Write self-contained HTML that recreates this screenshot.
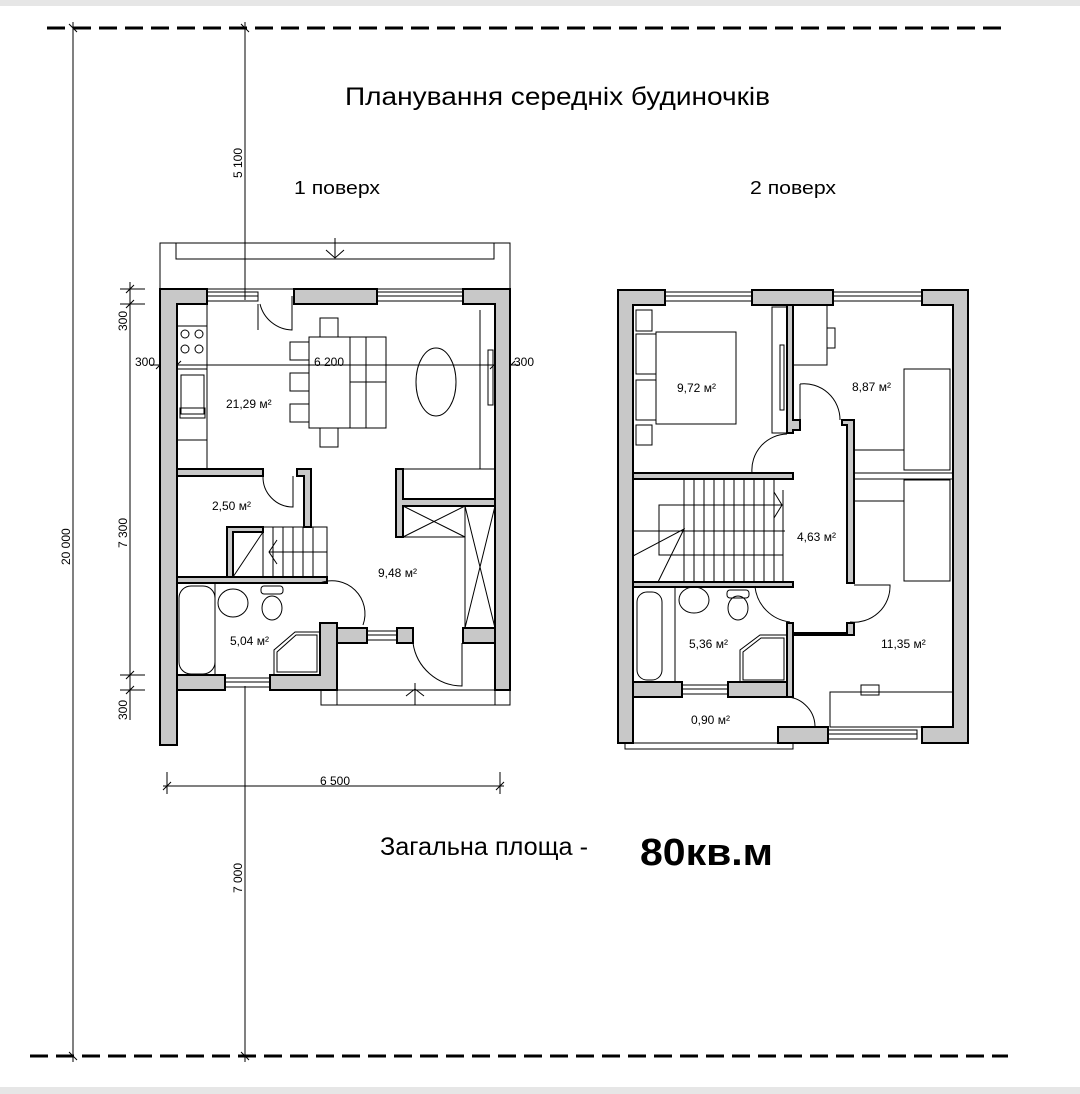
<!DOCTYPE html>
<html><head><meta charset="utf-8"><style>
html,body{margin:0;padding:0;background:#fff;}
svg{display:block;}
text{font-family:"Liberation Sans","DejaVu Sans",sans-serif;fill:#000;}
</style></head><body>
<svg width="1080" height="1094" viewBox="0 0 1080 1094" xmlns="http://www.w3.org/2000/svg">
<rect x="0" y="0" width="1080" height="6" fill="#e6e6e6"/>
<rect x="0" y="1087" width="1080" height="7" fill="#e6e6e6"/>
<line x1="47" y1="28" x2="1008" y2="28" stroke="#000" stroke-width="3" stroke-dasharray="18,8"/>
<line x1="30" y1="1056" x2="1008" y2="1056" stroke="#000" stroke-width="3" stroke-dasharray="18,8"/>
<g stroke="#000" stroke-width="1">
<line x1="73" y1="22" x2="73" y2="1062"/>
<line x1="245" y1="22" x2="245" y2="300"/>
<line x1="245" y1="686" x2="245" y2="1062"/>
<line x1="69" y1="24" x2="77" y2="32"/><line x1="241" y1="24" x2="249" y2="32"/>
<line x1="69" y1="1052" x2="77" y2="1060"/><line x1="241" y1="1052" x2="249" y2="1060"/>
<line x1="163" y1="786" x2="504" y2="786"/>
<line x1="167" y1="772" x2="167" y2="794"/><line x1="500" y1="772" x2="500" y2="794"/>
<line x1="163" y1="790" x2="171" y2="782"/><line x1="496" y1="790" x2="504" y2="782"/>
<line x1="130" y1="282" x2="130" y2="720"/>
<line x1="120" y1="289" x2="145" y2="289"/><line x1="120" y1="304" x2="145" y2="304"/>
<line x1="120" y1="675" x2="145" y2="675"/><line x1="120" y1="690" x2="145" y2="690"/>
<line x1="126" y1="293" x2="134" y2="285"/><line x1="126" y1="308" x2="134" y2="300"/>
<line x1="126" y1="679" x2="134" y2="671"/><line x1="126" y1="694" x2="134" y2="686"/>
<line x1="150" y1="365" x2="520" y2="365"/>
<line x1="156" y1="369" x2="164" y2="361"/><line x1="173" y1="369" x2="181" y2="361"/>
<line x1="490" y1="369" x2="498" y2="361"/><line x1="507" y1="369" x2="515" y2="361"/>
</g>
<g font-size="12">
<text transform="translate(242,178) rotate(-90)">5 100</text>
<text transform="translate(242,893) rotate(-90)">7 000</text>
<text transform="translate(70,565) rotate(-90)">20 000</text>
<text transform="translate(127,548) rotate(-90)">7 300</text>
<text transform="translate(127,331) rotate(-90)">300</text>
<text transform="translate(127,720) rotate(-90)">300</text>
<text x="135" y="366">300</text>
<text x="514" y="366">300</text>
<text x="314" y="366">6 200</text>
<text x="320" y="785">6 500</text>
</g>
<text x="345" y="105" font-size="25" textLength="425" lengthAdjust="spacingAndGlyphs">Планування середніх будиночків</text>
<text x="294" y="194" font-size="18" textLength="86" lengthAdjust="spacingAndGlyphs">1 поверх</text>
<text x="750" y="194" font-size="18" textLength="86" lengthAdjust="spacingAndGlyphs">2 поверх</text>
<text x="380" y="855" font-size="25" textLength="208" lengthAdjust="spacingAndGlyphs">Загальна площа  -</text>
<text x="640" y="865" font-size="38" font-weight="bold" textLength="133" lengthAdjust="spacingAndGlyphs">80кв.м</text>

<!-- FLOOR 1 -->
<g fill="none" stroke="#000" stroke-width="1">
<rect x="160" y="243" width="350" height="46"/>
<rect x="176" y="243" width="318" height="16"/>
<path d="M335 238 V258 M326 250 L335 258 L344 250"/>
<rect x="321" y="690" width="189" height="15"/>
<line x1="337" y1="690" x2="337" y2="705"/><line x1="495" y1="690" x2="495" y2="705"/>
<path d="M415 705 V683 M406 696 L415 689 L424 696"/>
</g>
<g fill="#c8c8c8" stroke="#000" stroke-width="2">
<path d="M160 289 H207 V304 H177 V745 H160 Z"/>
<rect x="294" y="289" width="83" height="15"/>
<path d="M463 289 H510 V690 H495 V304 H463 Z"/>
<path d="M177 675 H225 V690 H177 Z"/>
<path d="M270 675 H320 V623 H337 V690 H270 Z"/>
<rect x="337" y="628" width="30" height="15"/>
<rect x="397" y="628" width="16" height="15"/>
<rect x="463" y="628" width="32" height="15"/>
<rect x="177" y="469" width="86" height="7"/>
<path d="M297 469 H311 V527 H304 V476 H297 Z"/>
<path d="M227 527 H263 V532 H233 V578 H227 Z"/>
<rect x="177" y="577" width="150" height="6"/>
<path d="M396 469 H403 V499 H495 V506 H403 V537 H396 Z"/>
</g>
<g fill="none" stroke="#000" stroke-width="1">
<rect x="207" y="292" width="51" height="9"/><line x1="207" y1="296" x2="258" y2="296"/>
<rect x="377" y="292" width="86" height="9"/><line x1="377" y1="296" x2="463" y2="296"/>
<rect x="225" y="678" width="45" height="9"/><line x1="225" y1="682" x2="270" y2="682"/>
<rect x="367" y="631" width="30" height="9"/><line x1="367" y1="635" x2="397" y2="635"/>
<path d="M258 304 V330 M292 296 V330 A34 34 0 0 1 260 304"/>
<path d="M263 476 A30 30 0 0 0 293 507 V476"/>
<path d="M320 583 A33 33 0 0 1 363 625"/>
<path d="M413 643 A50 50 0 0 0 462 686 V643"/>
<rect x="177" y="304" width="30" height="165"/>
<line x1="177" y1="326" x2="207" y2="326"/><line x1="177" y1="369" x2="207" y2="369"/>
<line x1="177" y1="440" x2="207" y2="440"/>
<circle cx="185" cy="334" r="4"/><circle cx="199" cy="334" r="4"/>
<circle cx="185" cy="349" r="4"/><circle cx="199" cy="349" r="4"/>
<rect x="181" y="375" width="23" height="39"/>
<rect x="180" y="408" width="25" height="10"/>
<rect x="309" y="337" width="41" height="91"/>
<rect x="350" y="337" width="36" height="91"/>
<line x1="366" y1="337" x2="366" y2="428"/><line x1="350" y1="382" x2="386" y2="382"/>
<rect x="320" y="318" width="18" height="19"/><rect x="320" y="428" width="18" height="19"/>
<rect x="290" y="342" width="19" height="18"/><rect x="290" y="373" width="19" height="18"/>
<rect x="290" y="404" width="19" height="18"/>
<ellipse cx="436" cy="382" rx="20" ry="34"/>
<line x1="480" y1="310" x2="480" y2="469"/>
<rect x="488" y="350" width="5" height="55"/>
<line x1="403" y1="469" x2="495" y2="469"/>
<rect x="403" y="506" width="62" height="31"/>
<path d="M403 506 L465 537 M465 506 L403 537"/>
<rect x="465" y="506" width="30" height="122"/>
<path d="M465 506 L495 628 M495 506 L465 628"/>
<path d="M233 532 H263 V577 M263 532 L233 577"/>
<path d="M263 527 H327 V577 M273 527 V577 M283 527 V577 M293 527 V577 M303 527 V577 M313 527 V577"/>
<line x1="269" y1="552" x2="327" y2="552"/>
<path d="M277 540 L269 552 L277 564"/>
<rect x="179" y="586" width="36" height="88" rx="12"/>
<line x1="215" y1="583" x2="215" y2="675"/>
<ellipse cx="233" cy="603" rx="15" ry="14"/>
<rect x="261" y="586" width="22" height="8" rx="3"/>
<ellipse cx="272" cy="608" rx="10" ry="12"/>
<path d="M274 675 V650 L295 632 H320 V675 Z"/>
<path d="M277 672 V652 L296 635 H317 V672 Z"/>
</g>
<g font-size="12">
<text x="226" y="408">21,29 м²</text>
<text x="212" y="510">2,50 м²</text>
<text x="378" y="577">9,48 м²</text>
<text x="230" y="645">5,04 м²</text>
</g>

<!-- FLOOR 2 -->
<g fill="#c8c8c8" stroke="#000" stroke-width="2">
<path d="M618 290 H665 V305 H633 V743 H618 Z"/>
<rect x="752" y="290" width="81" height="15"/>
<path d="M922 290 H968 V743 H922 V727 H953 V305 H922 Z"/>
<rect x="778" y="727" width="50" height="16"/>
<rect x="633" y="682" width="49" height="15"/>
<rect x="728" y="682" width="64" height="15"/>
<path d="M787 305 H793 V420 H800 V430 H793 V433 H787 Z"/>
<path d="M787 623 H793 V633 H847 V623 H854 V635 H793 V697 H787 Z"/>
<rect x="633" y="473" width="160" height="6"/>
<rect x="633" y="582" width="160" height="5"/>
<path d="M842 420 H854 V583 H847 V425 H842 Z"/>
</g>
<g fill="none" stroke="#000" stroke-width="1">
<rect x="665" y="292" width="87" height="9"/><line x1="665" y1="296" x2="752" y2="296"/>
<rect x="833" y="292" width="89" height="9"/><line x1="833" y1="296" x2="922" y2="296"/>
<rect x="682" y="685" width="46" height="9"/><line x1="682" y1="689" x2="728" y2="689"/>
<rect x="828" y="730" width="89" height="9"/><line x1="828" y1="734" x2="917" y2="734"/>
<rect x="625" y="743" width="168" height="6"/>
<line x1="854" y1="473" x2="953" y2="473"/><line x1="854" y1="479" x2="953" y2="479"/>
<path d="M752 473 A36 36 0 0 1 787 434"/>
<path d="M800 384 V420 M800 384 A36 36 0 0 1 840 420"/>
<path d="M755 587 A40 40 0 0 0 790 622"/>
<path d="M854 585 H890 A36 36 0 0 1 850 622"/>
<path d="M783 697 A30 30 0 0 1 815 726"/>
<rect x="656" y="332" width="80" height="92"/>
<rect x="636" y="334" width="20" height="40"/><rect x="636" y="380" width="20" height="40"/>
<rect x="636" y="310" width="16" height="21"/><rect x="636" y="425" width="16" height="20"/>
<rect x="772" y="307" width="15" height="126"/>
<rect x="780" y="345" width="4" height="65"/>
<rect x="793" y="305" width="34" height="60"/>
<rect x="827" y="328" width="8" height="20"/>
<rect x="904" y="369" width="46" height="101"/>
<line x1="854" y1="450" x2="904" y2="450"/>
<rect x="904" y="480" width="46" height="101"/>
<line x1="854" y1="501" x2="904" y2="501"/>
<rect x="830" y="692" width="123" height="35"/>
<rect x="861" y="685" width="18" height="10"/>
<path d="M684 479 V582 M694 479 V582 M704 479 V582 M714 479 V582 M724 479 V582 M734 479 V582 M744 479 V582 M754 479 V582 M764 479 V582 M774 479 V582"/>
<line x1="783" y1="490" x2="783" y2="582"/>
<rect x="659" y="505" width="124" height="50"/>
<line x1="633" y1="531" x2="785" y2="531"/>
<path d="M633 556 L684 529 L658 582"/>
<path d="M774 492 L782 505 L774 518"/>
<rect x="637" y="592" width="25" height="88" rx="10"/>
<line x1="675" y1="587" x2="675" y2="682"/>
<ellipse cx="694" cy="600" rx="15" ry="13"/>
<rect x="727" y="590" width="22" height="8" rx="3"/>
<ellipse cx="738" cy="608" rx="10" ry="12"/>
<path d="M740 682 V650 L760 635 H787 V682 Z"/>
<path d="M743 680 V652 L761 638 H784 V680 Z"/>
</g>
<g font-size="12">
<text x="677" y="392">9,72 м²</text>
<text x="852" y="391">8,87 м²</text>
<text x="797" y="541">4,63 м²</text>
<text x="689" y="648">5,36 м²</text>
<text x="881" y="648">11,35 м²</text>
<text x="691" y="724">0,90 м²</text>
</g>
</svg>
</body></html>
